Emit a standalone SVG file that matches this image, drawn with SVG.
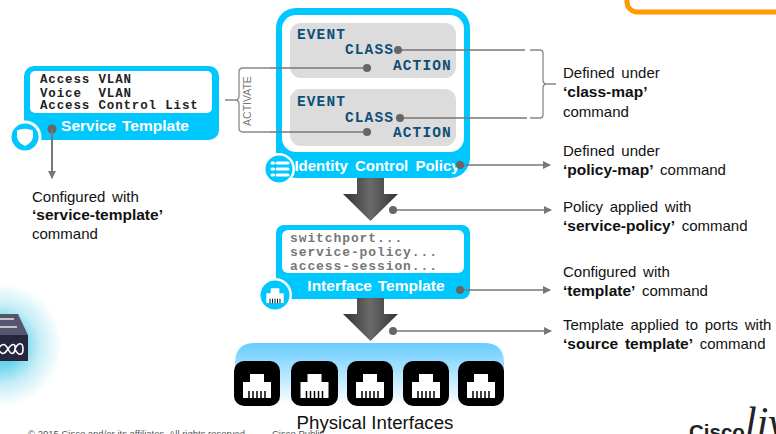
<svg xmlns="http://www.w3.org/2000/svg" xmlns:xlink="http://www.w3.org/1999/xlink" width="776" height="434" viewBox="0 0 776 434">
<style>
.lab{font:15px "Liberation Sans",Arial,sans-serif;fill:#111;word-spacing:2.5px}
.lab .b{font-weight:bold;font-size:15.500px}
.head{font:bold 15.500px "Liberation Sans",Arial,sans-serif;fill:#fff;text-anchor:middle;word-spacing:1.5px}
.st{font:bold 12.500px "Liberation Mono",monospace;fill:#222;letter-spacing:.85px}
.it{font:bold 13px "Liberation Mono",monospace;fill:#777;letter-spacing:.9px}
.ev{font:bold 14.500px "Liberation Mono",monospace;fill:#0d4f78;letter-spacing:1.1px}
.blue{fill:#00c8ff}
.ln{stroke:#777;stroke-width:1.6;fill:none}
.dot{fill:#666}
.br{stroke:#888;stroke-width:1.3;fill:none}
.foot{font:9.500px "Liberation Sans",Arial,sans-serif;fill:#555}
</style>
<defs>
<marker id="ah" markerWidth="9" markerHeight="8" refX="7" refY="4" orient="auto" markerUnits="userSpaceOnUse"><path d="M0 0L8 4L0 8z" fill="#777"/></marker>
<linearGradient id="arr" x1="0" x2="1" y1="0" y2="0"><stop offset="0" stop-color="#333"/><stop offset=".5" stop-color="#6a6a6a"/><stop offset="1" stop-color="#333"/></linearGradient>
<linearGradient id="phys" x1="0" x2="0" y1="0" y2="1"><stop offset="0" stop-color="#66ccff"/><stop offset="1" stop-color="#fff"/></linearGradient>
<radialGradient id="glow"><stop offset="0" stop-color="#3cc8e8"/><stop offset=".35" stop-color="#70d6ec"/><stop offset=".65" stop-color="#c8eef7"/><stop offset="1" stop-color="#fff"/></radialGradient>
<g id="port"><path d="M-14 13V-3H-7V-11H7V-3H14V13z" fill="#fff"/><path d="M-8 13V6M-4 13V6M0 13V6M4 13V6M8 13V6" stroke="#000" stroke-width="1.5"/></g>
<path id="bigarrow" d="M-13 0H14V16H28L0.5 43L-27 16H-13z" fill="url(#arr)"/>
</defs>

<g id="deco">
<rect x="627" y="-20" width="170" height="32" rx="10" fill="none" stroke="#ff9a00" stroke-width="5"/>
<circle cx="0" cy="345" r="62" fill="url(#glow)"/>
<path d="M0 314H18L28 335H0z" fill="#55556e"/>
<path d="M0 335H28V361H0z" fill="#26263e"/>
<path d="M0 319H14M0 327H17" stroke="#e8e8e8" stroke-width="1.400"/>
<path d="M-2 349c4-6 7-6 10 0s6 6 7 0 -3-6 -7 0 -6 6-10 0M15 349c3-7 8-7 8 0s-5 7-8 0" fill="none" stroke="#fff" stroke-width="1.600"/>
</g>

<g id="service-template">
<rect x="24" y="66" width="195" height="74" rx="10" class="blue"/>
<rect x="30" y="71" width="182" height="42" rx="5" fill="#fff"/>
<text class="st" x="40" y="83">Access VLAN</text>
<text class="st" x="40" y="97" xml:space="preserve">Voice  VLAN</text>
<text class="st" x="40" y="109">Access Control List</text>
<text class="head" x="125" y="131">Service Template</text>
<circle cx="25" cy="137" r="16.500" fill="#fff"/>
<circle cx="25" cy="137" r="13.500" class="blue"/>
<path d="M17 130.500Q25 127 33 130.500V137Q32 143 25 146Q18 143 17 137z" fill="#fff"/>
</g>

<g id="identity-control-policy">
<rect x="276" y="8" width="194" height="170" rx="20" class="blue"/>
<rect x="282" y="15" width="182" height="137" rx="14" fill="#fff"/>
<rect x="290" y="23" width="166" height="55" rx="11" fill="#dcdcdc"/>
<rect x="290" y="89" width="166" height="57" rx="11" fill="#dcdcdc"/>
<text class="ev" x="297" y="39">EVENT</text>
<text class="ev" x="345" y="54">CLASS</text>
<text class="ev" x="393" y="70">ACTION</text>
<text class="ev" x="297" y="106">EVENT</text>
<text class="ev" x="345" y="122">CLASS</text>
<text class="ev" x="393" y="137">ACTION</text>
<text class="head" x="377" y="171" style="font-size:15px;word-spacing:3px">Identity Control Policy</text>
<circle cx="279" cy="169" r="16" fill="#fff"/>
<circle cx="279" cy="169" r="13.500" class="blue"/>
<path d="M272 163h1.500M277 163h11M272 169h1.500M277 169h11M272 175h1.500M277 175h11" stroke="#fff" stroke-width="3" stroke-linecap="round"/>
</g>

<g id="interface-template">
<rect x="276" y="225" width="194" height="74" rx="8" class="blue"/>
<rect x="282" y="230" width="182" height="43" rx="6" fill="#fff"/>
<text class="it" x="290" y="242">switchport...</text>
<text class="it" x="290" y="256">service-policy...</text>
<text class="it" x="290" y="270">access-session...</text>
<text class="head" x="376" y="291">Interface Template</text>
<circle cx="275" cy="295" r="17" fill="#fff"/>
<circle cx="275" cy="295" r="14.500" class="blue"/>
<use xlink:href="#port" href="#port" transform="translate(275 295) scale(.62)"/>
</g>

<g id="flow-arrows">
<use xlink:href="#bigarrow" href="#bigarrow" transform="translate(370 178)"/>
<use xlink:href="#bigarrow" href="#bigarrow" transform="translate(370 298)"/>
</g>

<g id="physical-interfaces">
<path d="M235 405V363Q235 343 255 343H484Q504 343 504 363V405z" fill="url(#phys)"/>
<g id="port-1"><rect x="234" y="361" width="46" height="45" rx="10"/><use xlink:href="#port" href="#port" transform="translate(257 385)"/></g>
<g id="port-2"><rect x="291" y="361" width="47" height="45" rx="10"/><use xlink:href="#port" href="#port" transform="translate(314.500 385)"/></g>
<g id="port-3"><rect x="347" y="361" width="46" height="45" rx="10"/><use xlink:href="#port" href="#port" transform="translate(370 385)"/></g>
<g id="port-4"><rect x="403" y="361" width="46" height="45" rx="10"/><use xlink:href="#port" href="#port" transform="translate(426 385)"/></g>
<g id="port-5"><rect x="458" y="361" width="46" height="45" rx="10"/><use xlink:href="#port" href="#port" transform="translate(481 385)"/></g>
<text x="375" y="429" text-anchor="middle" style="font:18.700px 'Liberation Sans',Arial,sans-serif;fill:#111">Physical Interfaces</text>
</g>

<g id="connectors">
<circle class="dot" cx="52" cy="129" r="4.500"/>
<path class="ln" d="M52 129V178" marker-end="url(#ah)" style="stroke-width:2"/>
<path class="ln" d="M270 68H367"/><circle class="dot" cx="367" cy="68" r="4"/>
<path class="ln" d="M270 132H367"/><circle class="dot" cx="367" cy="132" r="4"/>
<path class="ln" d="M398 50H525"/><circle class="dot" cx="398" cy="50" r="4"/>
<path class="ln" d="M400 118H527"/><circle class="dot" cx="400" cy="118" r="4"/>
<path class="ln" d="M460 165H550" marker-end="url(#ah)"/><circle class="dot" cx="460" cy="165" r="4"/>
<path class="ln" d="M393 210H551" marker-end="url(#ah)"/><circle class="dot" cx="393" cy="210" r="4"/>
<path class="ln" d="M460 290H550" marker-end="url(#ah)"/><circle class="dot" cx="460" cy="290" r="4"/>
<path class="ln" d="M393 331H551" marker-end="url(#ah)"/><circle class="dot" cx="393" cy="331" r="4"/>
<path class="br" d="M270 68H243Q239 68 239 72V96Q239 100 235 100H225M235 100Q239 100 239 104V128Q239 132 243 132H270"/>
<path class="br" d="M530 50H540Q543 50 543 53V80Q543 84 547 84H556M547 84Q543 84 543 88V115Q543 118 540 118H530"/>
</g>
<text x="251" y="101" transform="rotate(-90 251 101)" text-anchor="middle" style="font:10.500px 'Liberation Sans',Arial,sans-serif;fill:#777">ACTIVATE</text>

<g id="labels">
<text class="lab" x="32" y="202">Configured with</text>
<text class="lab" x="32" y="220"><tspan class="b">‘service-template’</tspan></text>
<text class="lab" x="32" y="239">command</text>
<text class="lab" x="563" y="78">Defined under</text>
<text class="lab" x="563" y="97"><tspan class="b">‘class-map’</tspan></text>
<text class="lab" x="563" y="117">command</text>
<text class="lab" x="563" y="156">Defined under</text>
<text class="lab" x="563" y="175"><tspan class="b">‘policy-map’</tspan> command</text>
<text class="lab" x="563" y="212">Policy applied with</text>
<text class="lab" x="563" y="231"><tspan class="b">‘service-policy’</tspan> command</text>
<text class="lab" x="563" y="277">Configured with</text>
<text class="lab" x="563" y="296"><tspan class="b">‘template’</tspan> command</text>
<text class="lab" x="563" y="330">Template applied to ports with</text>
<text class="lab" x="563" y="349"><tspan class="b">‘source template’</tspan> command</text>
</g>

<g id="footer">
<text class="foot" x="28" y="437">© 2015 Cisco and/or its affiliates. All rights reserved.</text>
<text class="foot" x="272" y="437">Cisco Public</text>
<text x="689" y="439" style="font:bold 20.500px 'Liberation Sans',Arial,sans-serif;fill:#222">Cisco</text>
<text x="745" y="436" style="font:italic 42px 'Liberation Serif',serif;fill:#222">live</text>
</g>
</svg>
